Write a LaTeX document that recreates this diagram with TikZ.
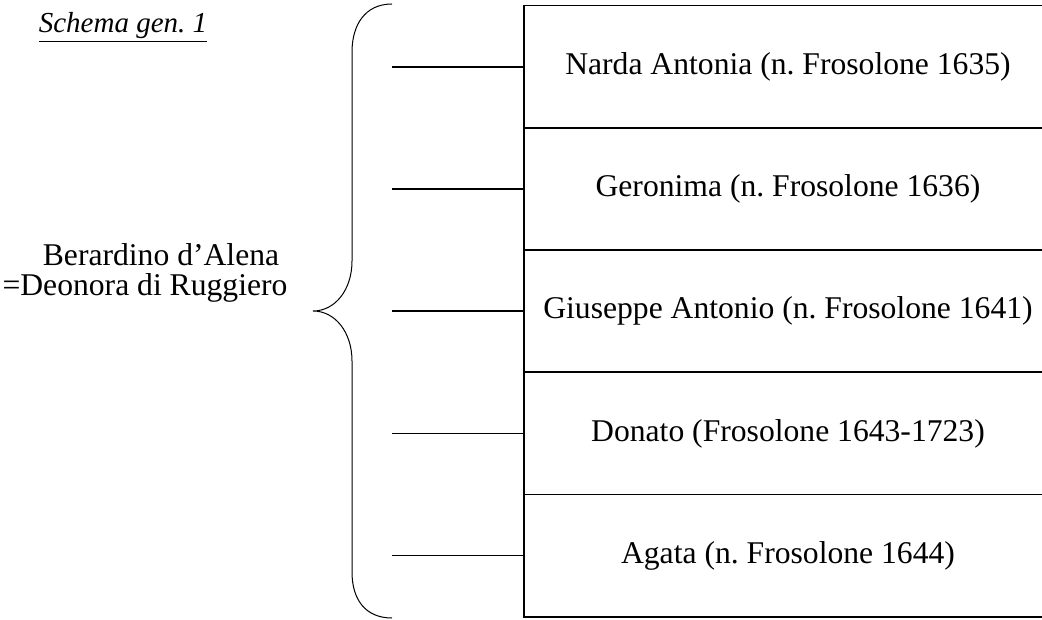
\documentclass[tikz,border=0pt]{standalone}
\usepackage{fontspec}
\setmainfont{Liberation Serif}
\frenchspacing
\begin{document}
\begin{tikzpicture}[cell/.style={draw, line width=0.032cm, minimum width=10.56cm, minimum height=2.444cm, inner sep=0pt},
                    link/.style={line width=0.032cm}]
                \useasboundingbox (0,0) rectangle (20.840000,12.380000);
                {\fontsize{18}{17}\selectfont

                % Marking title
                \draw (2.460000,11.720000) node [anchor=base, font=\fontsize{16.5}{17}\selectfont\itshape] (title) { \underline{Schema gen. 1} };%

                % Marking parents
                \draw (2.900000,6.920000) node [align=center] (parents) { \hspace*{0.64cm}Berardino d’Alena\\=Deonora di Ruggiero };%

                % Drawing brace
                \draw [line width=0.02cm] (7.840000,12.300000) .. controls (7.300000,12.300000) and (7.040000,11.880000) .. (7.040000,11.340000)
                      -- (7.040000,7.160000) .. controls (7.040000,6.580000) and (6.700000,6.160000) .. (6.260000,6.160000)
                      .. controls (6.700000,6.160000) and (7.040000,5.740000) .. (7.040000,5.160000)
                      -- (7.040000,0.940000) .. controls (7.040000,0.400000) and (7.300000,0.020000) .. (7.840000,0.020000);%

                % Marking children
                \draw (15.760000,11.044000) node [cell] (narda) { Narda Antonia (n. Frosolone 1635) };%
                \draw (15.760000,8.600000) node [cell] (geronima) { Geronima (n. Frosolone 1636) };%
                \draw (15.760000,6.156000) node [cell] (giuseppe) { Giuseppe Antonio (n. Frosolone 1641) };%
                \draw (15.760000,3.712000) node [cell] (donato) { Donato (Frosolone 1643-1723) };%
                \draw (15.760000,1.268000) node [cell] (agata) { Agata (n. Frosolone 1644) };%

                % Drawing segments from brace to children
                \coordinate (tnarda) at (7.840000,11.044000);
                \coordinate (tgeronima) at (7.840000,8.600000);
                \coordinate (tgiuseppe) at (7.840000,6.156000);
                \coordinate (tdonato) at (7.840000,3.712000);
                \coordinate (tagata) at (7.840000,1.268000);
                \draw [link] (tnarda) -- (narda.west);%
                \draw [link] (tgeronima) -- (geronima.west);%
                \draw [link] (tgiuseppe) -- (giuseppe.west);%
                \draw [link] (tdonato) -- (donato.west);%
                \draw [link] (tagata) -- (agata.west);%
                }
\end{tikzpicture}
\end{document}
